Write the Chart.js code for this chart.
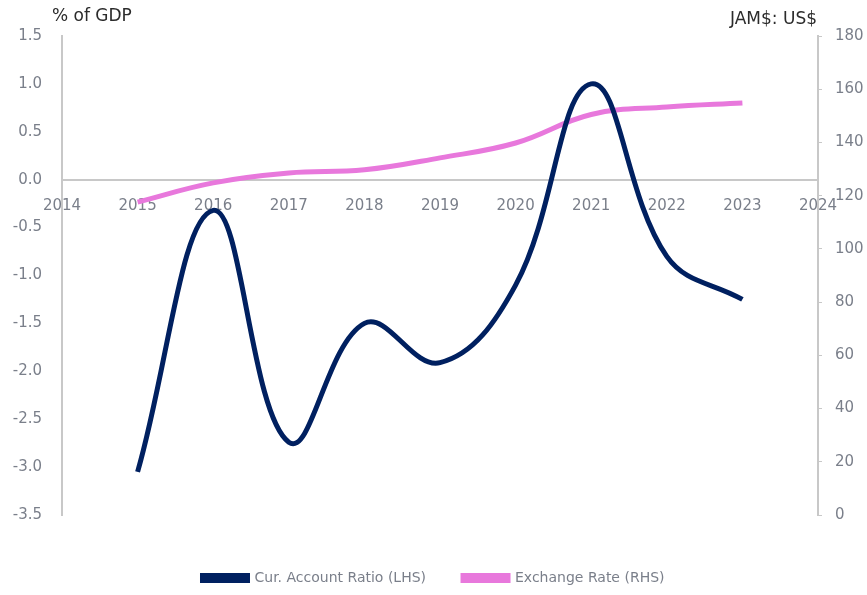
<!DOCTYPE html>
<html lang="en">
<head>
    <meta charset="UTF-8">
    <title>Current Account vs Exchange Rate</title>
    <script src="https://cdn.jsdelivr.net/npm/chart.js"></script>
    <style>
        html, body { margin: 0; padding: 0; background: #fff; }
        #wrap { width: 867px; height: 595px; position: relative; }
    </style>
</head>
<body>
    <div id="wrap">
        <canvas id="caChart"></canvas>
    </div>

    <script>
        const years = [2015, 2016, 2017, 2018, 2019, 2020, 2021, 2022, 2023];
        const caRatio = [-3.05, -0.32, -2.74, -1.5, -1.91, -1.1, 1.0, -0.8, -1.25];
        const fxRate = [117.6, 124.8, 128.5, 129.7, 134.2, 139.8, 150.5, 153.3, 154.8];

        const NAVY = '#002060';
        const PINK = '#E878DC';
        const TICK = '#7a7f8a';
        const FONT = '"DejaVu Sans", sans-serif';

        // axis titles drawn above each y axis
        const axisTitles = {
            id: 'axisTitles',
            afterDraw(chart) {
                const ctx = chart.ctx;
                ctx.save();
                ctx.font = '17px ' + FONT;
                ctx.fillStyle = '#2b2b2b';
                ctx.textBaseline = 'middle';
                ctx.textAlign = 'left';
                ctx.fillText('% of GDP', 52, 17);
                ctx.textAlign = 'right';
                ctx.fillText('JAM$: US$', 817, 20);
                ctx.restore();
            }
        };

        const ctx = document.getElementById('caChart').getContext('2d');
        new Chart(ctx, {
            type: 'line',
            data: {
                datasets: [
                    {
                        label: 'Cur. Account Ratio (LHS)',
                        data: years.map((y, i) => ({ x: y, y: caRatio[i] })),
                        borderColor: NAVY,
                        backgroundColor: NAVY,
                        borderWidth: 5,
                        tension: 0.4,
                        pointRadius: 0,
                        yAxisID: 'y'
                    },
                    {
                        label: 'Exchange Rate (RHS)',
                        data: years.map((y, i) => ({ x: y, y: fxRate[i] })),
                        borderColor: PINK,
                        backgroundColor: PINK,
                        borderWidth: 5,
                        tension: 0.4,
                        pointRadius: 0,
                        yAxisID: 'y1'
                    }
                ]
            },
            options: {
                responsive: true,
                maintainAspectRatio: false,
                animation: false,
                layout: { padding: { top: 36, bottom: 0 } },
                plugins: {
                    tooltip: { enabled: false },
                    legend: {
                        position: 'bottom',
                        // blank title only used to push the items down
                        title: {
                            display: true,
                            text: '',
                            font: { size: 10 },
                            padding: { top: 7, bottom: 0 }
                        },
                        labels: {
                            boxWidth: 45,
                            boxHeight: 5,
                            padding: 37,
                            color: TICK,
                            font: { family: FONT, size: 14 }
                        }
                    }
                },
                scales: {
                    x: {
                        type: 'linear',
                        position: { y: 0 },
                        min: 2014,
                        max: 2024,
                        grid: { display: false, drawTicks: false },
                        border: { color: '#c8c8c8', width: 2 },
                        ticks: {
                            stepSize: 1,
                            color: TICK,
                            font: { family: FONT, size: 15 },
                            padding: 17,
                            callback: v => String(v)
                        }
                    },
                    y: {
                        position: 'left',
                        min: -3.5,
                        max: 1.5,
                        afterFit: s => { s.width = 62; },
                        grid: { display: false, drawTicks: false },
                        border: { color: '#c8c8c8', width: 2 },
                        ticks: {
                            stepSize: 0.5,
                            color: TICK,
                            font: { family: FONT, size: 15 },
                            padding: 20,
                            callback: v => v.toFixed(1)
                        }
                    },
                    y1: {
                        position: 'right',
                        min: 0,
                        max: 180,
                        afterFit: s => { s.width = 49; },
                        grid: {
                            display: true,
                            drawOnChartArea: false,
                            drawTicks: true,
                            tickLength: 4,
                            color: '#c8c8c8'
                        },
                        border: { color: '#c8c8c8', width: 2 },
                        ticks: {
                            stepSize: 20,
                            color: TICK,
                            font: { family: FONT, size: 15 },
                            padding: 13
                        }
                    }
                }
            },
            plugins: [axisTitles]
        });
    </script>
</body>
</html>
